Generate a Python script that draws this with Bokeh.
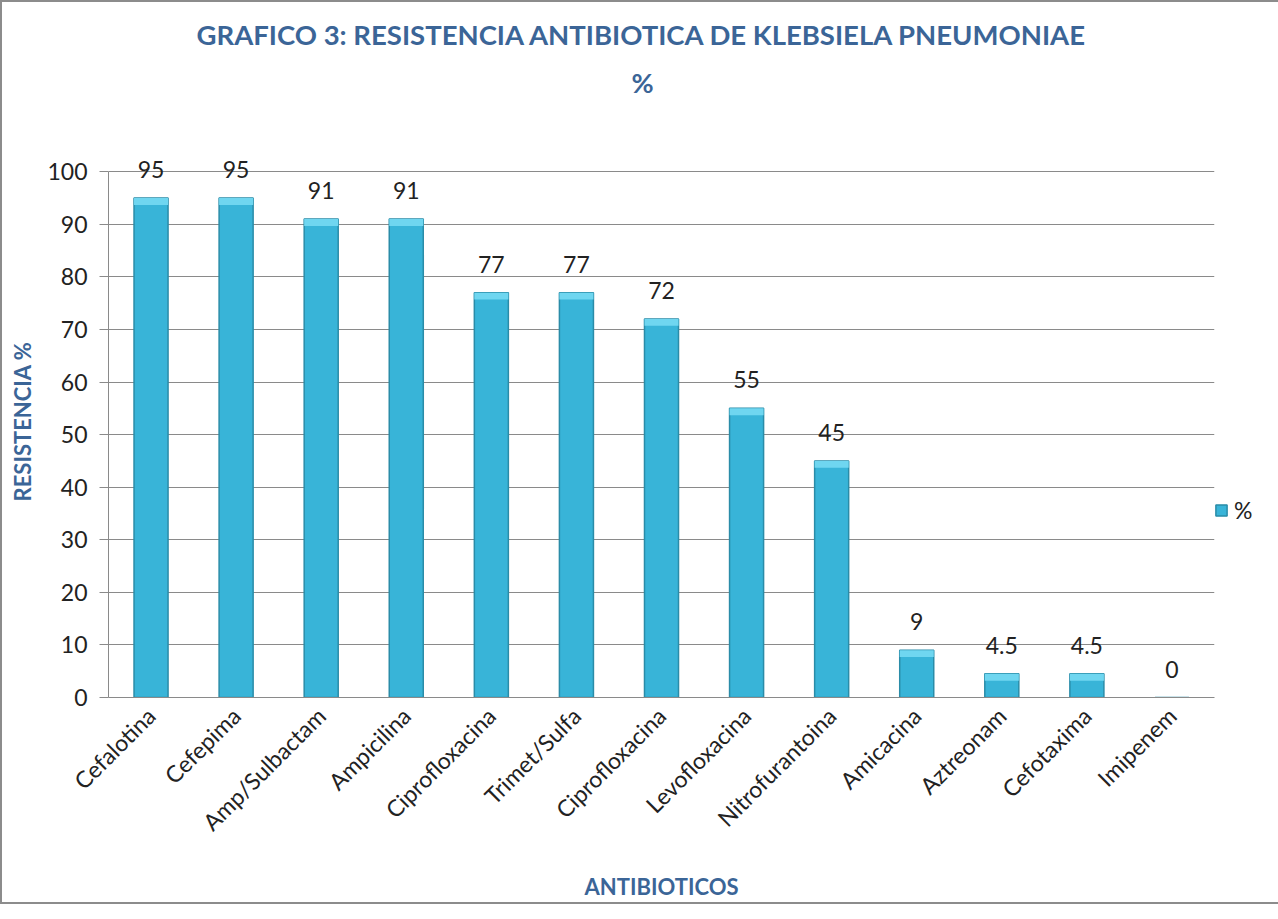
from bokeh.plotting import figure
from bokeh.models import (ColumnDataSource, Range1d, FixedTicker, Title, Legend,
                          LegendItem, LabelSet)
from bokeh.core.properties import value
from bokeh.embed import file_html
from bokeh.resources import INLINE
import math

categories = ["Cefalotina", "Cefepima", "Amp/Sulbactam", "Ampicilina", "Ciprofloxacina",
              "Trimet/Sulfa", "Ciprofloxacina", "Levofloxacina", "Nitrofurantoina",
              "Amicacina", "Aztreonam", "Cefotaxima", "Imipenem"]
values = [95, 95, 91, 91, 77, 77, 72, 55, 45, 9, 4.5, 4.5, 0]
value_labels = ["95", "95", "91", "91", "77", "77", "72", "55", "45", "9", "4.5", "4.5", "0"]
y_ticks = [0, 10, 20, 30, 40, 50, 60, 70, 80, 90, 100]

FONT = "Lato"
BLUE = "#3B6597"
GRID = "#8a8a8a"

xs = list(range(len(categories)))
bevel = [max(v - 1.3, 0) for v in values]
src = ColumnDataSource(dict(x=xs, top=values, bev=bevel, lab=value_labels))

p = figure(frame_width=1106, frame_height=552, output_backend="svg", toolbar_location=None,
           x_range=Range1d(-0.5, len(categories) - 0.5), y_range=Range1d(0, 105),
           min_border_left=106, min_border_right=50, min_border_top=143, min_border_bottom=200)
p.outline_line_color = None
p.background_fill_color = "white"
p.border_fill_color = "white"
p.styles = {"border": "2px solid #8c8c8c", "box-sizing": "border-box"}

main = p.vbar(x="x", top="top", bottom=0, width=0.4, source=src,
              fill_color="#38B4D8", line_color="#2A8CA8", line_width=1.5)
p.vbar(x="x", top="top", bottom="bev", width=0.4, source=src,
       fill_color="#6FD6F0", line_color=None)

labels = LabelSet(x="x", y="top", text="lab", source=src, text_align="center",
                  text_baseline="bottom", y_offset=20, text_font=value(FONT),
                  text_font_size="23px", text_color="#222222")
p.add_layout(labels)

# axes
p.xaxis.ticker = FixedTicker(ticks=xs)
p.xaxis.major_label_overrides = {i: c for i, c in enumerate(categories)}
p.xaxis.major_label_orientation = math.pi / 4
p.xaxis.major_tick_line_color = None
p.xaxis.minor_tick_line_color = None
p.xaxis.axis_line_color = GRID
p.xaxis.major_label_text_font = FONT
p.xaxis.major_label_text_font_size = "23px"
p.xaxis.major_label_text_color = "#222222"
p.xaxis.major_label_standoff = 8
p.xaxis.axis_label = "ANTIBIOTICOS"
p.xaxis.axis_label_text_font = FONT
p.xaxis.axis_label_text_font_style = "bold"
p.xaxis.axis_label_text_font_size = "22px"
p.xaxis.axis_label_text_color = BLUE
p.xaxis.axis_label_standoff = 24

p.yaxis.ticker = FixedTicker(ticks=y_ticks)
p.yaxis.bounds = (0, 100)
p.yaxis.major_tick_in = 0
p.yaxis.major_tick_out = 9
p.yaxis.major_tick_line_color = GRID
p.yaxis.minor_tick_line_color = None
p.yaxis.axis_line_color = GRID
p.yaxis.major_label_text_font = FONT
p.yaxis.major_label_text_font_size = "23px"
p.yaxis.major_label_text_color = "#222222"
p.yaxis.major_label_standoff = 12
p.yaxis.axis_label = "RESISTENCIA %"
p.yaxis.axis_label_text_font = FONT
p.yaxis.axis_label_text_font_style = "bold"
p.yaxis.axis_label_text_font_size = "22px"
p.yaxis.axis_label_text_color = BLUE
p.yaxis.axis_label_standoff = 8

p.xgrid.grid_line_color = None
p.ygrid.grid_line_color = GRID
p.ygrid.grid_line_width = 1

sub = Title(text="%", align="left", text_font=FONT, text_font_size="27px",
            text_font_style="bold", text_color=BLUE, standoff=93, offset=523)
p.add_layout(sub, "above")
title = Title(text="GRAFICO 3: RESISTENCIA ANTIBIOTICA DE KLEBSIELA PNEUMONIAE",
              align="left", text_font=FONT, text_font_size="27.5px",
              text_font_style="bold", text_color=BLUE, standoff=-66, offset=88)
p.add_layout(title, "above")

legend = Legend(items=[LegendItem(label="%", renderers=[main])], location="top_left",
                title=" ", title_text_font_size="20px", title_standoff=328,
                border_line_color=None, background_fill_alpha=0,
                label_text_font=FONT, label_text_font_size="23px",
                label_text_color="#222222", glyph_width=14, glyph_height=14,
                padding=0, margin=0, label_standoff=6)
p.add_layout(legend, "right")

open("out.html", "w").write(file_html(p, INLINE))
